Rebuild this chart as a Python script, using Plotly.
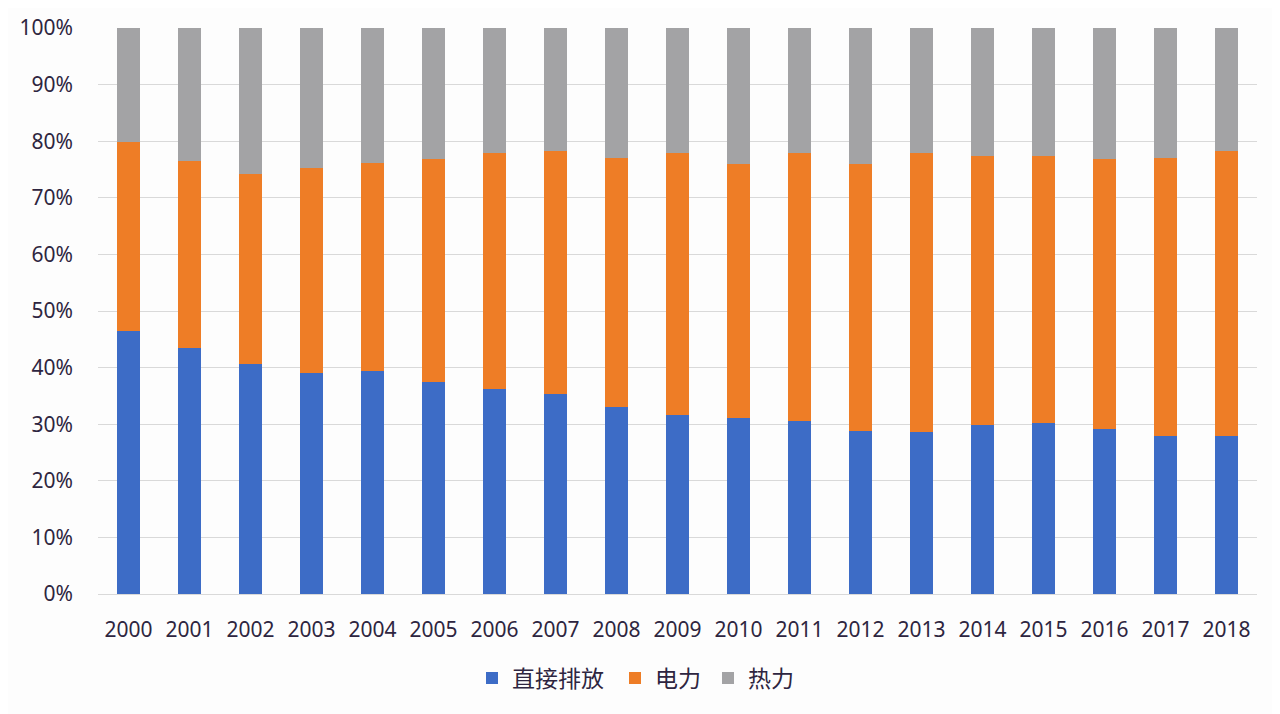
import plotly.graph_objects as go

years = [str(y) for y in range(2000, 2019)]
direct = [46.5, 43.5, 40.6, 39.0, 39.4, 37.4, 36.2, 35.3, 33.1, 31.7, 31.1, 30.5, 28.8, 28.7, 29.8, 30.3, 29.1, 27.9, 27.9]
elec_top = [79.9, 76.5, 74.2, 75.3, 76.1, 76.9, 78.0, 78.2, 77.1, 77.9, 75.9, 78.0, 76.0, 78.0, 77.3, 77.4, 76.9, 77.1, 78.2]
power = [round(t - d, 1) for t, d in zip(elec_top, direct)]
heat = [round(100 - t, 1) for t in elec_top]

names = ["直接排放", "电力", "热力"]
colors = ["#3d6cc6", "#ee7d26", "#a3a3a5"]
legend_ids = ["legend", "legend2", "legend3"]
legend_text_x = [512, 655, 748]  # screen px where each legend label starts

fig = go.Figure()
for name, vals, c, lg in zip(names, [direct, power, heat], colors, legend_ids):
    fig.add_trace(go.Bar(x=years, y=vals, name=name, legend=lg,
                         marker=dict(color=c, line=dict(width=0))))

font_fam = "Noto Sans, Noto Sans CJK SC, sans-serif"
legend_common = dict(orientation="h", xref="container", yref="container",
                     xanchor="left", yanchor="middle", y=44 / 714,
                     font=dict(size=23, color="#2e2540"), bgcolor="rgba(0,0,0,0)")
legends = {}
for lg, tx in zip(legend_ids, legend_text_x):
    legends[lg] = dict(legend_common, x=(tx - 8 - 40) / 1280)

fig.update_layout(
    barmode="stack",
    bargap=0.62,
    width=1280, height=714,
    margin=dict(l=90, r=31, t=20, b=128, autoexpand=False),
    paper_bgcolor="#fdfdfd",
    plot_bgcolor="#fdfdfd",
    font=dict(family=font_fam, size=21, color="#2e2540"),
    showlegend=True,
    **legends,
)
fig.update_yaxes(range=[0, 100], tickvals=list(range(0, 101, 10)),
                 ticktext=[f"{v}%" for v in range(0, 101, 10)],
                 showgrid=True, gridcolor="#d9d9d9", gridwidth=1, automargin=False,
                 zeroline=False, showline=False, ticks="", ticklabelstandoff=24)
fig.update_xaxes(showgrid=False, showline=True, linecolor="#d9d9d9", ticks="", automargin=False,
                 ticklabelstandoff=17, tickangle=0)

fig.write_html("out.html")
